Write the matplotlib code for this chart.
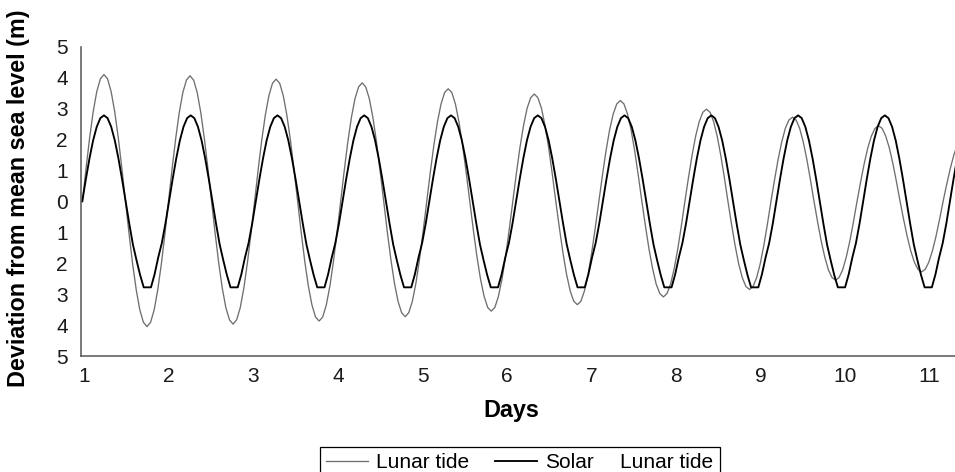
import numpy as np
import matplotlib
matplotlib.use("Agg")
import matplotlib.pyplot as plt
from matplotlib.lines import Line2D

plt.rcParams['font.family'] = ['Liberation Sans', 'DejaVu Sans']

# ---------------- data ----------------
# Lunar tide: regular samples starting at day 0.976
lunar_first_day = 0.97602
lunar_step_days = 0.042430
lunar_tide = [
    0, 1.06, 2.05, 2.90, 3.55, 3.96,
    4.10, 3.96, 3.55, 2.90, 2.05, 1.06, 0, -1.05, -2.03, -2.86, -3.51, -3.91, -4.05, -3.91, -3.51, -2.86, -2.03, -1.05, 0, 1.05, 2.03, 2.87, 3.52, 3.92,
    4.06, 3.92, 3.52, 2.87, 2.03, 1.05, 0, -1.03, -1.99, -2.81, -3.44, -3.83, -3.97, -3.83, -3.44, -2.81, -1.99, -1.03, 0, 1.02, 1.98, 2.79, 3.42, 3.82,
    3.95, 3.82, 3.42, 2.79, 1.98, 1.02, 0, -1.00, -1.94, -2.74, -3.35, -3.74, -3.87, -3.74, -3.35, -2.74, -1.94, -1.00, 0, 0.99, 1.92, 2.71, 3.32, 3.70,
    3.83, 3.70, 3.32, 2.71, 1.92, 0.99, 0, -0.97, -1.87, -2.64, -3.23, -3.60, -3.73, -3.60, -3.23, -2.64, -1.87, -0.97, 0, 0.94, 1.82, 2.57, 3.15, 3.52,
    3.64, 3.52, 3.15, 2.57, 1.82, 0.94, 0, -0.92, -1.78, -2.51, -3.07, -3.43, -3.55, -3.43, -3.07, -2.51, -1.78, -0.92, 0, 0.90, 1.74, 2.45, 3.01, 3.35,
    3.47, 3.35, 3.01, 2.45, 1.74, 0.90, 0, -0.86, -1.67, -2.36, -2.89, -3.23, -3.34, -3.23, -2.89, -2.36, -1.67, -0.86, 0, 0.84, 1.63, 2.31, 2.82, 3.15,
    3.26, 3.15, 2.82, 2.31, 1.63, 0.84, 0, -0.80, -1.55, -2.18, -2.68, -2.98, -3.09, -2.98, -2.68, -2.18, -1.55, -0.80, 0, 0.77, 1.49, 2.11, 2.58, 2.88,
    2.98, 2.88, 2.58, 2.11, 1.49, 0.77, 0, -0.74, -1.43, -2.02, -2.47, -2.75, -2.85, -2.75, -2.47, -2.02, -1.43, -0.74, 0, 0.70, 1.36, 1.92, 2.36, 2.63,
    2.72, 2.63, 2.36, 1.92, 1.36, 0.70, 0, -0.66, -1.28, -1.80, -2.21, -2.46, -2.55, -2.46, -2.21, -1.80, -1.28, -0.66, 0, 0.63, 1.22, 1.73, 2.11, 2.36,
    2.44, 2.36, 2.11, 1.73, 1.22, 0.63, 0, -0.59, -1.14, -1.61, -1.97, -2.20, -2.28, -2.20, -1.97, -1.61, -1.14, -0.59, 0, 0.55, 1.06, 1.50, 1.84, 2.05,
]

# Solar tide: regular samples starting at day 0.974
solar_first_day = 0.97395
solar_step_days = 0.042775
solar_tide = [
    0, 0.72, 1.39, 1.97, 2.41, 2.69,
    2.78, 2.69, 2.41, 1.97, 1.39, 0.72, 0, -0.72, -1.39, -1.90, -2.38, -2.78, -2.78, -2.78, -2.36, -1.82, -1.35, -0.72, 0, 0.72, 1.39, 1.97, 2.41, 2.69,
    2.78, 2.69, 2.41, 1.97, 1.39, 0.72, 0, -0.72, -1.39, -1.90, -2.38, -2.78, -2.78, -2.78, -2.36, -1.82, -1.35, -0.72, 0, 0.72, 1.39, 1.97, 2.41, 2.69,
    2.78, 2.69, 2.41, 1.97, 1.39, 0.72, 0, -0.72, -1.39, -1.90, -2.38, -2.78, -2.78, -2.78, -2.36, -1.82, -1.35, -0.72, 0, 0.72, 1.39, 1.97, 2.41, 2.69,
    2.78, 2.69, 2.41, 1.97, 1.39, 0.72, 0, -0.72, -1.39, -1.90, -2.38, -2.78, -2.78, -2.78, -2.36, -1.82, -1.35, -0.72, 0, 0.72, 1.39, 1.97, 2.41, 2.69,
    2.78, 2.69, 2.41, 1.97, 1.39, 0.72, 0, -0.72, -1.39, -1.90, -2.38, -2.78, -2.78, -2.78, -2.36, -1.82, -1.35, -0.72, 0, 0.72, 1.39, 1.97, 2.41, 2.69,
    2.78, 2.69, 2.41, 1.97, 1.39, 0.72, 0, -0.72, -1.39, -1.90, -2.38, -2.78, -2.78, -2.78, -2.36, -1.82, -1.35, -0.72, 0, 0.72, 1.39, 1.97, 2.41, 2.69,
    2.78, 2.69, 2.41, 1.97, 1.39, 0.72, 0, -0.72, -1.39, -1.90, -2.38, -2.78, -2.78, -2.78, -2.36, -1.82, -1.35, -0.72, 0, 0.72, 1.39, 1.97, 2.41, 2.69,
    2.78, 2.69, 2.41, 1.97, 1.39, 0.72, 0, -0.72, -1.39, -1.90, -2.38, -2.78, -2.78, -2.78, -2.36, -1.82, -1.35, -0.72, 0, 0.72, 1.39, 1.97, 2.41, 2.69,
    2.78, 2.69, 2.41, 1.97, 1.39, 0.72, 0, -0.72, -1.39, -1.90, -2.38, -2.78, -2.78, -2.78, -2.36, -1.82, -1.35, -0.72, 0, 0.72, 1.39, 1.97, 2.41, 2.69,
    2.78, 2.69, 2.41, 1.97, 1.39, 0.72, 0, -0.72, -1.39, -1.90, -2.38, -2.78, -2.78, -2.78, -2.36, -1.82, -1.35, -0.72, 0, 0.72, 1.39,
]

x_ticks = [1, 2, 3, 4, 5, 6, 7, 8, 9, 10, 11]
y_ticks = [5, 4, 3, 2, 1, 0, -1, -2, -3, -4, -5]
y_tick_labels = ['5', '4', '3', '2', '1', '0', '1', '2', '3', '4', '5']
legend_labels = ['Lunar tide', 'Solar', 'Lunar tide']

lunar_days = lunar_first_day + lunar_step_days * np.arange(len(lunar_tide))
solar_days = solar_first_day + solar_step_days * np.arange(len(solar_tide))

# ---------------- figure ----------------
W, H = 955, 472
fig = plt.figure(figsize=(W / 100, H / 100), dpi=100)
ax = fig.add_axes([81 / W, 1 - 356 / H, 1 - 81 / W, (356 - 46.7) / H])

gray = '#6f6f6f'
l1, = ax.plot(lunar_days, lunar_tide, color=gray, lw=0.95)
l2, = ax.plot(solar_days, solar_tide, color='black', lw=1.35)

ax.set_xlim(0.959, 11.30)
ax.set_ylim(-5, 5)
ax.set_xticks(x_ticks)
ax.set_xticklabels([str(t) for t in x_ticks])
ax.set_yticks(y_ticks)
ax.set_yticklabels(y_tick_labels)
ax.tick_params(axis='both', length=0, labelsize=15, colors='#1a1a1a')
ax.tick_params(axis='x', pad=8)
ax.tick_params(axis='y', pad=9.5)

for s in ['top', 'right']:
    ax.spines[s].set_visible(False)
for s in ['left', 'bottom']:
    ax.spines[s].set_color('#555555')
    ax.spines[s].set_linewidth(1.1)

ax.set_ylabel('Deviation from mean sea level (m)', fontsize=16.8, fontweight='bold')
ax.yaxis.set_label_coords(-0.058, 0.51)
ax.set_xlabel('Days', fontsize=16.8, fontweight='bold')
ax.xaxis.set_label_coords(0.492, -0.140)

blank = Line2D([], [], color='none', lw=0)
leg = fig.legend([l1, l2, blank], legend_labels, loc='upper left',
                 bbox_to_anchor=(320 / W, 1 - 447 / H), borderaxespad=0,
                 ncol=3, fontsize=15, frameon=True, fancybox=False,
                 edgecolor='black', framealpha=1, handlelength=2.0,
                 handletextpad=0.4, columnspacing=1.25, borderpad=0.3)
leg.get_frame().set_linewidth(0.9)
try:
    item3 = leg._legend_handle_box.get_children()[2].get_children()[0]
    item3.get_children()[0].width = 0
    item3.sep = 0
except Exception:
    pass

fig.savefig('out.png', dpi=100)
